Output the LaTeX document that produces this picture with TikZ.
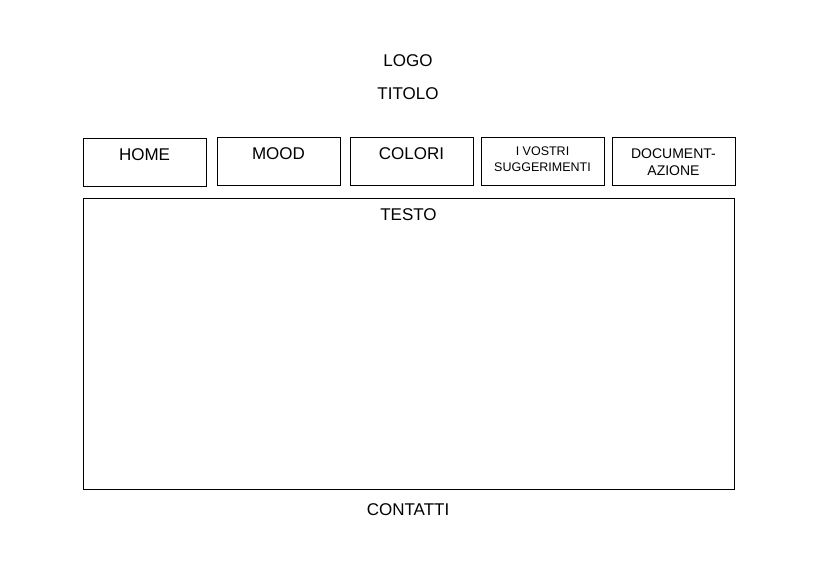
\documentclass[tikz,border=0pt]{standalone}
\usepackage{fontspec}
\setmainfont{Liberation Sans}
\usetikzlibrary{positioning}

\begin{document}
\begin{tikzpicture}[x=1pt, y=-1pt,
	navbox/.style={draw, rectangle, line width=0.8pt, minimum width=123pt,
		minimum height=48pt, inner sep=0pt},
	bigtxt/.style={anchor=base, inner sep=0pt, font=\fontsize{17}{20}\selectfont},
	midtxt/.style={anchor=base, inner sep=0pt, font=\fontsize{14}{16}\selectfont},
	smalltxt/.style={anchor=base, inner sep=0pt, font=\fontsize{12.5}{15}\selectfont}]
	\useasboundingbox (0,0) rectangle (814,563);

	% header
	\node[bigtxt] (logo)   at (408,66)  {LOGO};
	\node[bigtxt] (titolo) at (408,99)  {TITOLO};

	% menu
	\node[navbox] (home)    at (144.5,162) {};
	\node[navbox] (mood)    at (278.5,161) {};
	\node[navbox] (colori)  at (411.5,161) {};
	\node[navbox] (vostri)  at (542.5,161) {};
	\node[navbox] (docum)   at (673.5,161) {};

	\node[bigtxt]   (hometxt)   at (144.5,160) {HOME};
	\node[bigtxt]   (moodtxt)   at (278.5,159) {MOOD};
	\node[bigtxt]   (coloritxt) at (411.5,159) {COLORI};
	\node[smalltxt] (vostria)   at (542.5,155.5) {I VOSTRI};
	\node[smalltxt] (vostrib)   at (542.5,171.5) {SUGGERIMENTI};
	\node[midtxt]   (documa)    at (673.5,158.5) {DOCUMENT-};
	\node[midtxt]   (documb)    at (673.5,175) {AZIONE};

	% content
	\node[draw, rectangle, line width=0.8pt, minimum width=651pt,
		minimum height=291pt, inner sep=0pt] (testo) at (408.5,343.5) {};
	\node[bigtxt] (testotxt) at (408.5,220) {TESTO};

	% footer
	\node[bigtxt] (contatti) at (408,515) {CONTATTI};
\end{tikzpicture}
\end{document}
